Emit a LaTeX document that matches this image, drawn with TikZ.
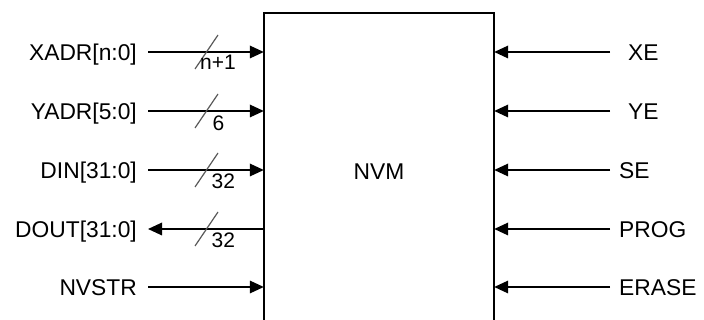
\documentclass[tikz,border=0pt]{standalone}
\usepackage{fontspec}
\setmainfont{Liberation Sans}
\usetikzlibrary{arrows.meta}
\begin{document}
\begin{tikzpicture}[x=1pt,y=-1pt,
  sig/.style={line width=1.8pt,-{Triangle[length=14pt,width=12.5pt]}},
  boxline/.style={line width=2pt},
  busslash/.style={line width=1.2pt,draw=black!65},
  lbl/.style={inner ysep=0pt,text height=16.3pt,text depth=0pt,font=\fontsize{22.8}{26}\selectfont},
  llbl/.style={lbl,anchor=east,inner xsep=11pt},
  rlbl/.style={lbl,anchor=west,inner xsep=9pt},
  buslbl/.style={inner sep=0pt,anchor=base west,font=\fontsize{21}{24}\selectfont}]
\useasboundingbox (0,0) rectangle (704,320);
% block
\node[minimum width=230pt,minimum height=317pt,inner sep=0pt,
  font=\fontsize{22.8}{26}\selectfont] (nvm) at (379,171.5) {NVM};
\draw[boxline] (nvm.south west) -- (nvm.north west) -- (nvm.north east) -- (nvm.south east);
% left labels
\node[llbl] (xadr) at (148,52) {XADR[n:0]};
\node[llbl] (yadr) at (148,111) {YADR[5:0]};
\node[llbl] (din) at (148,170) {DIN[31:0]};
\node[llbl] (dout) at (148,229) {DOUT[31:0]};
\node[llbl] (nvstr) at (148,287) {NVSTR};
% right labels
\node[rlbl,inner xsep=18pt] (xe) at (610,52) {XE};
\node[rlbl,inner xsep=18pt] (ye) at (610,111) {YE};
\node[rlbl] (se) at (610,170) {SE};
\node[rlbl] (prog) at (610,229) {PROG};
\node[rlbl] (erase) at (610,287) {ERASE};
% left connectors
\draw[sig] (xadr.east) -- (xadr.east -| nvm.west);
\draw[sig] (yadr.east) -- (yadr.east -| nvm.west);
\draw[sig] (din.east) -- (din.east -| nvm.west);
\draw[sig] (dout.east -| nvm.west) -- (dout.east);
\draw[sig] (nvstr.east) -- (nvstr.east -| nvm.west);
% right connectors
\draw[sig] (xe.west) -- (xe.west -| nvm.east);
\draw[sig] (ye.west) -- (ye.west -| nvm.east);
\draw[sig] (se.west) -- (se.west -| nvm.east);
\draw[sig] (prog.west) -- (prog.west -| nvm.east);
\draw[sig] (erase.west) -- (erase.west -| nvm.east);
% bus slashes
\draw[busslash] (206.5,52) +(-11.5,17) -- +(11.5,-17);
\draw[busslash] (206.5,111) +(-11.5,17) -- +(11.5,-17);
\draw[busslash] (206.5,170) +(-11.5,17) -- +(11.5,-17);
\draw[busslash] (206.5,229) +(-11.5,17) -- +(11.5,-17);
% bus widths
\node[buslbl] (wx) at (200,70) {n+1};
\node[buslbl] (wy) at (212.5,130.5) {6};
\node[buslbl] (wd) at (211.5,189) {32};
\node[buslbl] (wo) at (211.5,248) {32};
\end{tikzpicture}
\end{document}
